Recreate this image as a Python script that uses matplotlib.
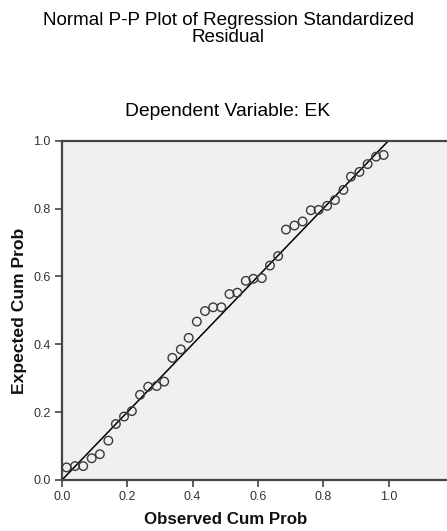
import matplotlib
matplotlib.use("Agg")
import matplotlib.pyplot as plt

# Observed vs expected cumulative probabilities of the standardized residuals
observed_cum_prob = [
    0.014, 0.040, 0.065, 0.091, 0.116, 0.142, 0.165, 0.190, 0.214, 0.239,
    0.264, 0.290, 0.313, 0.338, 0.364, 0.388, 0.413, 0.438, 0.463, 0.488,
    0.513, 0.537, 0.563, 0.586, 0.612, 0.637, 0.662, 0.686, 0.712, 0.737,
    0.762, 0.786, 0.812, 0.836, 0.862, 0.885, 0.911, 0.936, 0.962, 0.985,
]
expected_cum_prob = [
    0.037, 0.041, 0.041, 0.064, 0.076, 0.116, 0.165, 0.187, 0.203, 0.251,
    0.275, 0.277, 0.290, 0.360, 0.385, 0.419, 0.467, 0.498, 0.509, 0.509,
    0.548, 0.552, 0.587, 0.593, 0.595, 0.632, 0.660, 0.738, 0.750, 0.762,
    0.795, 0.796, 0.808, 0.825, 0.855, 0.894, 0.908, 0.931, 0.953, 0.958,
]
tick_values = [0.0, 0.2, 0.4, 0.6, 0.8, 1.0]
tick_labels = ["0.0", "0.2", "0.4", "0.6", "0.8", "1.0"]

plt.rcParams["font.family"] = ["Liberation Sans", "DejaVu Sans"]

W, H = 447, 531
fig = plt.figure(figsize=(W / 100, H / 100), dpi=100)
fig.patch.set_facecolor("white")

left, right, top, bottom = 62, 447, 140.7, 480
ax = fig.add_axes([left / W, 1 - bottom / H, (right - left) / W, (bottom - top) / H])
ax.set_facecolor("#f0f0f0")
ax.set_xlim(0, (right - left) / 326.5)
ax.set_ylim(0, 1.0)

# reference diagonal
ax.plot([0, 1], [0, 1], color="black", lw=1.1, zorder=2)
ax.scatter(observed_cum_prob, expected_cum_prob, s=38, facecolors="none",
           edgecolors="#3a3a3a", linewidths=1.0, zorder=3)

for side in ("left", "bottom", "top"):
    ax.spines[side].set_color("#444444")
    ax.spines[side].set_linewidth(1.6)
ax.spines["right"].set_visible(False)

ax.set_xticks(tick_values)
ax.set_xticklabels(tick_labels)
ax.set_yticks(tick_values)
ax.set_yticklabels(tick_labels)
ax.tick_params(direction="out", length=5, width=1.2, color="#444444",
               labelsize=9, labelcolor="#333333", pad=3)

fig.text(228 / W, 1 - 29 / H, "Normal P-P Plot of Regression Standardized\nResidual",
         ha="center", va="center", fontsize=13.6, linespacing=0.95, color="#000000")
fig.text(228 / W, 1 - 112 / H, "Dependent Variable: EK", ha="center", va="center",
         fontsize=13.9, color="#000000")
fig.text(226 / W, 1 - 520 / H, "Observed Cum Prob", ha="center", va="center",
         fontsize=12.2, fontweight="bold", color="#111111")
fig.text(20 / W, 1 - 311 / H, "Expected Cum Prob", ha="center", va="center",
         rotation=90, fontsize=12.6, fontweight="bold", color="#111111")

fig.savefig("out.png", dpi=100)
